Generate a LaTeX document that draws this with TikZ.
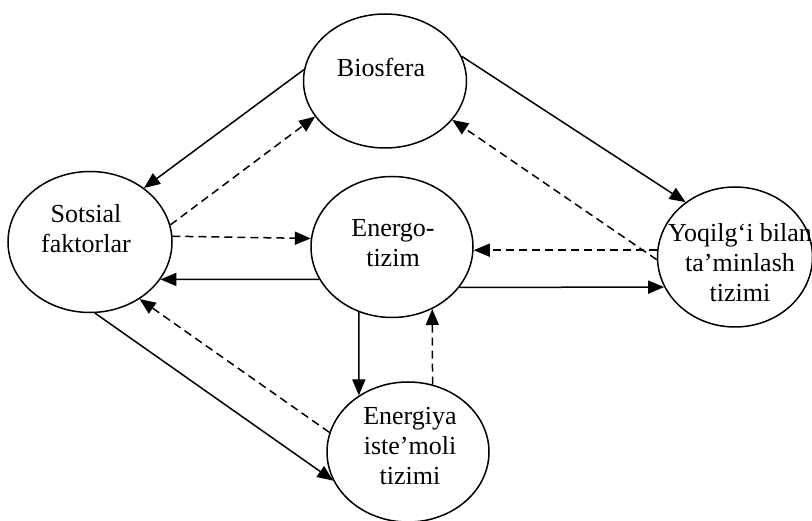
\documentclass[tikz,border=0pt]{standalone}
\usepackage{fontspec}
\setmainfont{Liberation Serif}
\usetikzlibrary{shapes.geometric,arrows.meta}
\begin{document}
\begin{tikzpicture}[x=1pt,y=-1pt,
  ell/.style={draw, ellipse, line width=1.5pt, inner sep=0pt},
  lbl/.style={align=center, font=\fontsize{26}{30}\selectfont, inner sep=0pt},
  conn/.style={line width=1.5pt, -{Triangle[length=16pt,width=13pt]}},
  dsh/.style={conn, dash pattern=on 8pt off 5pt}]
\useasboundingbox (0,0) rectangle (812,521);
% ellipses
\node[ell, minimum width=163pt, minimum height=134pt] (bio) at (385,81) {};
\node[ell, minimum width=164pt, minimum height=141pt] (soc) at (90,242) {};
\node[ell, minimum width=162pt, minimum height=141pt] (en) at (392,247) {};
\node[ell, minimum width=155pt, minimum height=140pt] (yoq) at (735,257) {};
\node[ell, minimum width=162pt, minimum height=140pt] (cons) at (408,452) {};
% texts
\node[lbl] (tbio) at (381,67) {Biosfera};
\node[lbl] (tsoc) at (86,229) {Sotsial\\faktorlar};
\node[lbl] (ten) at (393,243) {Energo-\\tizim};
\node[lbl] (tyoq) at (740,263) {Yoqilg‘i bilan\\ta’minlash\\tizimi};
\node[lbl] (tcons) at (410,446) {Energiya\\iste’moli\\tizimi};
% connectors
\draw[conn] (bio.172) -- (soc.45);
\draw[dsh] (soc.12) -- (bio.207);
\draw[conn] (bio.18) -- (yoq.132);
\draw[dsh] (yoq.182) -- (bio.-30);
\draw[dsh] (yoq.175) -- (yoq.175 -| en.east);
\draw[conn] (en.-31) -- (yoq.203);
\draw[conn] (en.204) -- (soc.-28);
\draw[dsh] (soc.4) -- (en.174);
\draw[conn] (en.-117) -- (cons.131);
\draw[dsh] (cons.70) -- (en.-57);
\draw[conn] (soc.-86) -- (cons.201);
\draw[dsh] (cons.166) -- (soc.-49);
\end{tikzpicture}
\end{document}
